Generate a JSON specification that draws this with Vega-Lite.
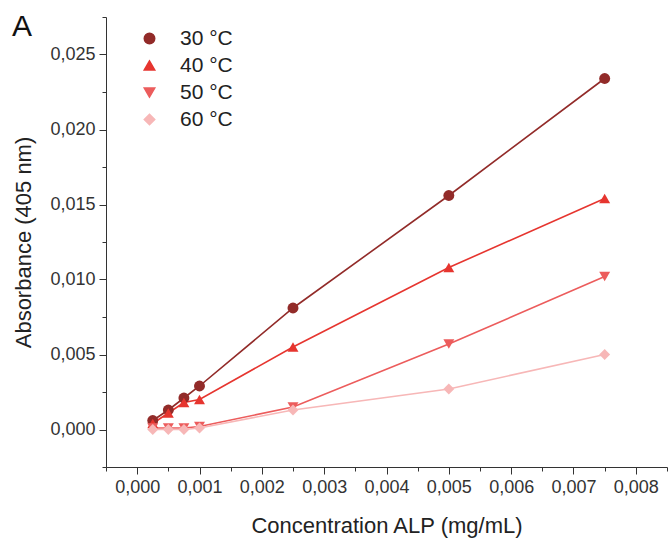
{
  "$schema": "https://vega.github.io/schema/vega-lite/v6.json",
  "autosize": {"type": "none"},
  "width": 561,
  "height": 450,
  "padding": {"left": 106, "top": 17, "right": 2, "bottom": 73},
  "background": "white",
  "config": {
    "font": "Liberation Sans",
    "view": {"stroke": null},
    "axis": {"grid": false, "domainColor": "#333333", "tickColor": "#333333", "labelColor": "#333333", "titleColor": "#222222", "labelFont": "Liberation Sans", "titleFont": "Liberation Sans", "titleFontWeight": "normal", "labelFontSize": 18, "titleFontSize": 22, "labelOverlap": false, "labelFlush": false}
  },
  "title": {"text": "A", "anchor": "start", "frame": "group", "fontSize": 30, "fontWeight": "normal", "font": "Liberation Sans", "color": "#111111", "baseline": "top", "dx": -94, "dy": 34, "offset": 0},
  "data": {"values": [
    {"conc": 0.00025, "abs": 0.0006, "temp": "30 °C"},
    {"conc": 0.0005, "abs": 0.0013, "temp": "30 °C"},
    {"conc": 0.00075, "abs": 0.0021, "temp": "30 °C"},
    {"conc": 0.001, "abs": 0.0029, "temp": "30 °C"},
    {"conc": 0.0025, "abs": 0.0081, "temp": "30 °C"},
    {"conc": 0.005, "abs": 0.0156, "temp": "30 °C"},
    {"conc": 0.0075, "abs": 0.0234, "temp": "30 °C"},
    {"conc": 0.00025, "abs": 0.0004, "temp": "40 °C"},
    {"conc": 0.0005, "abs": 0.0011, "temp": "40 °C"},
    {"conc": 0.00075, "abs": 0.0018, "temp": "40 °C"},
    {"conc": 0.001, "abs": 0.002, "temp": "40 °C"},
    {"conc": 0.0025, "abs": 0.0055, "temp": "40 °C"},
    {"conc": 0.005, "abs": 0.0108, "temp": "40 °C"},
    {"conc": 0.0075, "abs": 0.0154, "temp": "40 °C"},
    {"conc": 0.00025, "abs": 0.0001, "temp": "50 °C"},
    {"conc": 0.0005, "abs": 0.0001, "temp": "50 °C"},
    {"conc": 0.00075, "abs": 0.0001, "temp": "50 °C"},
    {"conc": 0.001, "abs": 0.0002, "temp": "50 °C"},
    {"conc": 0.0025, "abs": 0.0015, "temp": "50 °C"},
    {"conc": 0.005, "abs": 0.0057, "temp": "50 °C"},
    {"conc": 0.0075, "abs": 0.0102, "temp": "50 °C"},
    {"conc": 0.00025, "abs": 0.0, "temp": "60 °C"},
    {"conc": 0.0005, "abs": 0.0, "temp": "60 °C"},
    {"conc": 0.00075, "abs": 0.0, "temp": "60 °C"},
    {"conc": 0.001, "abs": 0.0001, "temp": "60 °C"},
    {"conc": 0.0025, "abs": 0.0013, "temp": "60 °C"},
    {"conc": 0.005, "abs": 0.0027, "temp": "60 °C"},
    {"conc": 0.0075, "abs": 0.005, "temp": "60 °C"}
  ]},
  "encoding": {
    "x": {"field": "conc", "type": "quantitative",
      "scale": {"domain": [-0.0005, 0.0085], "nice": false, "zero": false},
      "axis": {"title": "Concentration ALP (mg/mL)", "titlePadding": 19,
        "values": [-0.0005, 0, 0.0005, 0.001, 0.0015, 0.002, 0.0025, 0.003, 0.0035, 0.004, 0.0045, 0.005, 0.0055, 0.006, 0.0065, 0.007, 0.0075, 0.008, 0.0085],
        "labelExpr": "abs(datum.value*1000 - round(datum.value*1000)) < 1e-6 ? replace(format(datum.value, '.3f'), '.', ',') : ''",
        "tickSize": {"condition": {"test": "abs(datum.value*1000 - round(datum.value*1000)) < 1e-6", "value": 7}, "value": 4},
        "labelPadding": 4}},
    "y": {"field": "abs", "type": "quantitative",
      "scale": {"domain": [-0.0025, 0.0275], "nice": false, "zero": false},
      "axis": {"title": "Absorbance (405 nm)", "titlePadding": 14,
        "values": [-0.0025, 0, 0.0025, 0.005, 0.0075, 0.01, 0.0125, 0.015, 0.0175, 0.02, 0.0225, 0.025, 0.0275],
        "labelExpr": "abs(datum.value*200 - round(datum.value*200)) < 1e-6 ? replace(format(datum.value, '.3f'), '.', ',') : ''",
        "tickSize": {"condition": {"test": "abs(datum.value*200 - round(datum.value*200)) < 1e-6", "value": 7}, "value": 4},
        "labelPadding": 4}},
    "color": {"field": "temp", "type": "nominal",
      "scale": {"domain": ["30 °C", "40 °C", "50 °C", "60 °C"], "range": ["#922b29", "#e6352f", "#ec5c5c", "#f7b7b7"]},
      "legend": {"title": null, "orient": "none", "legendX": 33, "legendY": 11,
        "labelFontSize": 21, "labelColor": "#222222", "labelFont": "Liberation Sans",
        "symbolSize": 110, "symbolOpacity": 1, "labelOffset": 20, "rowPadding": 5}}
  },
  "layer": [
    {"mark": {"type": "line", "strokeWidth": 1.6}},
    {"mark": {"type": "point", "filled": true, "opacity": 1, "size": 120},
     "encoding": {
       "shape": {"field": "temp", "type": "nominal", "legend": null,
         "scale": {"domain": ["30 °C", "40 °C", "50 °C", "60 °C"], "range": ["circle", "triangle-up", "triangle-down", "diamond"]}}
     }}
  ]
}
